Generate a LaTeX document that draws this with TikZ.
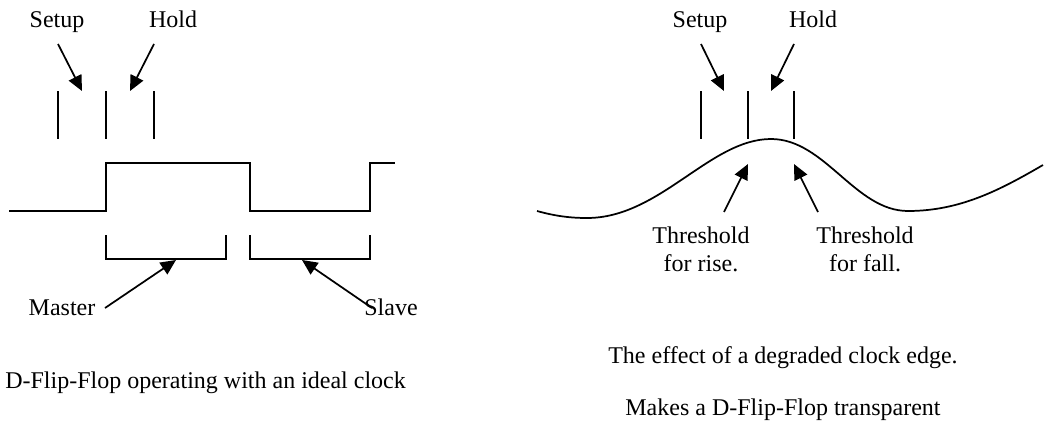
\documentclass[tikz,border=0pt]{standalone}
\usepackage{fontspec}
\setmainfont{Liberation Serif}
\usetikzlibrary{arrows.meta}
\begin{document}
\begin{tikzpicture}[x=0.75pt,y=-0.75pt,
  wire/.style={line width=1.3pt},
  ptr/.style={line width=1.3pt,-{Triangle[length=11.5pt,width=10.5pt]}},
  lbl/.style={inner sep=0pt,anchor=base,font=\fontsize{18}{21}\selectfont}]
\fill[white] (0,0) rectangle (1057,421);
\useasboundingbox (0,0) rectangle (1057,421);
% ---------- left diagram ----------
\node[lbl] (setupL) at (57,27) {Setup};
\node[lbl] (holdL) at (173,27) {Hold};
\coordinate (sLa) at (58,44);  \coordinate (sLb) at (82,91);
\coordinate (hLa) at (154,44); \coordinate (hLb) at (130,91);
\draw[ptr] (sLa) -- (sLb);
\draw[ptr] (hLa) -- (hLb);
\draw[wire] (58,91) -- (58,139);
\draw[wire] (106,91) -- (106,139);
\draw[wire] (154,91) -- (154,139);
% clock
\draw[wire] (9,211) -- (106,211) -- (106,163) -- (250,163) -- (250,211) -- (370,211) -- (370,163) -- (395,163);
% brackets
\draw[wire] (106,235) -- (106,259) -- (226,259) -- (226,235);
\draw[wire] (250,235) -- (250,259) -- (370,259) -- (370,235);
\node[lbl] (master) at (62,315) {Master};
\node[lbl] (slave) at (391,315) {Slave};
\coordinate (mA) at (105,308); \coordinate (mB) at (176,260);
\coordinate (slA) at (372,308); \coordinate (slB) at (302,260);
\draw[ptr] (mA) -- (mB);
\draw[ptr] (slA) -- (slB);
\node[lbl,anchor=base west] (capL) at (5,388) {D-Flip-Flop operating with an ideal clock};
% ---------- right diagram ----------
\node[lbl] (setupR) at (700,27) {Setup};
\node[lbl] (holdR) at (813,27) {Hold};
\coordinate (sRa) at (701,44); \coordinate (sRb) at (724,91);
\coordinate (hRa) at (794,44); \coordinate (hRb) at (771,91);
\draw[ptr] (sRa) -- (sRb);
\draw[ptr] (hRa) -- (hRb);
\draw[wire] (701,91) -- (701,139);
\draw[wire] (748,91) -- (748,139);
\draw[wire] (794,91) -- (794,139);
% degraded clock
\draw[wire] (537,211) .. controls (555,216) and (570,218) .. (587,218)
  .. controls (660,218) and (710,139) .. (771,139)
  .. controls (825,139) and (855,211) .. (908,211)
  .. controls (960,211) and (1000,190) .. (1043,165);
\coordinate (rA) at (724,212); \coordinate (rB) at (748,164);
\coordinate (fA) at (818,212); \coordinate (fB) at (794,164);
\draw[ptr] (rA) -- (rB);
\draw[ptr] (fA) -- (fB);
\node[lbl] (thrR1) at (701,243) {Threshold};
\node[lbl] (thrR2) at (701,271) {for rise.};
\node[lbl] (thrF1) at (865,243) {Threshold};
\node[lbl] (thrF2) at (865,271) {for fall.};
\node[lbl] (capR1) at (783,363) {The effect of a degraded clock edge.};
\node[lbl] (capR2) at (783,415) {Makes a D-Flip-Flop transparent};
\end{tikzpicture}
\end{document}
